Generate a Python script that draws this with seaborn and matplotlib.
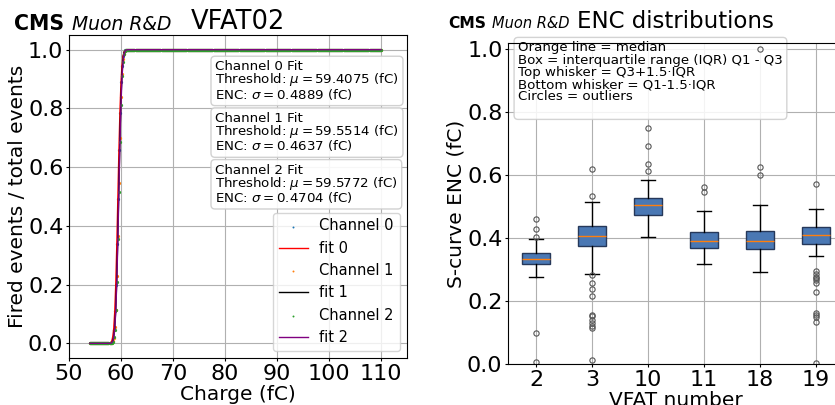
import math
import numpy as np
import pandas as pd
import seaborn as sns
import matplotlib
matplotlib.use("Agg")
import matplotlib.pyplot as plt

# ---- S-curve data (VFAT02) ----
charge_min, charge_max, charge_step = 54.0, 110.0, 0.2
rise_charge = [58.2, 58.4, 58.6, 58.8, 59.0, 59.2, 59.4, 59.6, 59.8, 60.0, 60.2, 60.4, 60.6, 60.8]
ch0_rise = [0.006, 0.021, 0.047, 0.110, 0.198, 0.340, 0.490, 0.657, 0.785, 0.890, 0.944, 0.980, 0.992, 0.998]
ch1_rise = [0.002, 0.008, 0.019, 0.055, 0.114, 0.228, 0.366, 0.545, 0.700, 0.838, 0.916, 0.968, 0.987, 0.997]
ch2_rise = [0.002, 0.006, 0.020, 0.047, 0.112, 0.208, 0.356, 0.516, 0.686, 0.812, 0.909, 0.958, 0.986, 0.995]
fit_mu = [59.4075, 59.5514, 59.5772]
fit_sigma = [0.4889, 0.4637, 0.4704]
fit_colors = ["red", "black", "purple"]
point_colors = ["tab:blue", "tab:orange", "tab:green"]

# ---- ENC box statistics per VFAT ----
vfat_ids = ["2", "3", "10", "11", "18", "19"]
enc_med = [0.333, 0.406, 0.505, 0.390, 0.390, 0.410]
enc_q1 = [0.319, 0.376, 0.473, 0.368, 0.367, 0.382]
enc_q3 = [0.352, 0.438, 0.529, 0.418, 0.423, 0.435]
enc_whislo = [0.276, 0.286, 0.403, 0.317, 0.292, 0.343]
enc_whishi = [0.397, 0.514, 0.584, 0.486, 0.504, 0.492]
enc_fliers = [
    [0.460, 0.429, 0.405, 0.097, 0.007],
    [0.621, 0.535, 0.282, 0.257, 0.237, 0.216, 0.156, 0.151, 0.141, 0.130, 0.122, 0.113, 0.013],
    [0.751, 0.692, 0.635, 0.612],
    [0.564, 0.548],
    [1.000, 0.626, 0.600],
    [0.571, 0.297, 0.287, 0.278, 0.272, 0.266, 0.259, 0.230, 0.162, 0.156, 0.149, 0.133, 0.002],
]

charge = np.round(np.arange(charge_min, charge_max + 1e-6, charge_step), 1)
n_low = int(np.sum(charge < rise_charge[0] - 1e-6))
n_high = len(charge) - n_low - len(rise_charge)


def scurve(x, mu, sigma):
    return np.array([0.5 * (1 + math.erf((v - mu) / (sigma * math.sqrt(2)))) for v in x])


fig = plt.figure(figsize=(8.35, 4.05), dpi=100)
ax1 = fig.add_axes([0.0826, 0.116, 0.4048, 0.7975])
ax2 = fig.add_axes([0.6084, 0.1012, 0.402, 0.7926])

# left panel: s-curves (points and fit of each channel, drawn in order)
for i, rise in enumerate([ch0_rise, ch1_rise, ch2_rise]):
    frac = np.concatenate([np.zeros(n_low), rise, np.ones(n_high)])
    df = pd.DataFrame({"charge": charge, "frac": frac})
    sns.scatterplot(data=df, x="charge", y="frac", ax=ax1, color=point_colors[i],
                    marker=".", s=22, linewidth=0, label=f"Channel {i}", zorder=2 + 0.2 * i)
    df["fit"] = scurve(charge, fit_mu[i], fit_sigma[i])
    sns.lineplot(data=df, x="charge", y="fit", ax=ax1, color=fit_colors[i],
                 linewidth=1, label=f"fit {i}", zorder=2.1 + 0.2 * i)

ax1.set_xlim(50, 115)
ax1.set_ylim(-0.05, 1.05)
ax1.set_xticks(range(50, 111, 10))
ax1.set_yticks(np.arange(0, 1.01, 0.2))
ax1.tick_params(labelsize=16, length=2.5, pad=1.5)
ax1.grid(True, color="#b0b0b0", linewidth=0.8)
ax1.set_xlabel("Charge (fC)", fontsize=14.5, labelpad=1)
ax1.set_ylabel("Fired events / total events", fontsize=14.5, labelpad=1)
ax1.set_title("VFAT02", fontsize=18.5, pad=3.6)
ax1.legend(loc="lower right", fontsize=10.5, handlelength=2.0, markerscale=0.6)

for i, ypos in enumerate([0.922, 0.762, 0.602]):
    ax1.text(0.432, ypos,
             f"Channel {i} Fit\nThreshold: $\\mu = {fit_mu[i]:.4f}$ (fC)\nENC: $\\sigma = {fit_sigma[i]:.4f}$ (fC)",
             transform=ax1.transAxes, va="top", ha="left", fontsize=9.6, linespacing=0.85,
             bbox=dict(boxstyle="round", fc="white", ec="0.8", alpha=0.9))

# right panel: ENC box plots
stats = []
for k in range(len(vfat_ids)):
    stats.append(dict(med=enc_med[k], q1=enc_q1[k], q3=enc_q3[k], whislo=enc_whislo[k],
                      whishi=enc_whishi[k], fliers=enc_fliers[k], label=vfat_ids[k]))
ax2.bxp(stats, widths=0.5, patch_artist=True,
        boxprops=dict(facecolor="#4a78b4", edgecolor="#26385a", linewidth=1),
        medianprops=dict(color="#ff7f0e", linewidth=1),
        whiskerprops=dict(color="black", linewidth=1),
        capprops=dict(color="black", linewidth=1),
        flierprops=dict(marker="o", markersize=3.8, markerfacecolor="none",
                        markeredgecolor="#555555", markeredgewidth=0.8))
ax2.set_xlim(0.5, 6.5)
ax2.set_ylim(0, 1.02)
ax2.set_yticks(np.arange(0, 1.01, 0.2))
ax2.tick_params(labelsize=16, length=2.5, pad=1.5)
ax2.grid(True, color="#b0b0b0", linewidth=0.8)
ax2.set_axisbelow(True)
ax2.set_xlabel("VFAT number", fontsize=14.5, labelpad=1)
ax2.set_ylabel("S-curve ENC (fC)", fontsize=14.5, labelpad=1)
ax2.set_title("ENC distributions", fontsize=16.5, pad=10.8)
ax2.text(0.03, 1.005,
         "Orange line = median\nBox = interquartile range (IQR) Q1 - Q3\n"
         "Top whisker = Q3+1.5\u00b7IQR\nBottom whisker = Q1-1.5\u00b7IQR\nCircles = outliers\n",
         transform=ax2.transAxes, va="top", ha="left", fontsize=9.6, linespacing=0.92,
         zorder=1.9, bbox=dict(boxstyle="round", fc="white", ec="0.8", alpha=0.85))

# CMS labels
fig.text(14 / 835, 1 - 30 / 405, "CMS", fontsize=14.8, fontweight="bold", va="baseline")
fig.text(72 / 835, 1 - 30 / 405, "Muon R&D", fontsize=13.5, style="italic", va="baseline")
fig.text(448 / 835, 1 - 28 / 405, "CMS", fontsize=11.2, fontweight="bold", va="baseline")
fig.text(492 / 835, 1 - 28 / 405, "Muon R&D", fontsize=10.5, style="italic", va="baseline")

fig.savefig("out.png", dpi=100)
